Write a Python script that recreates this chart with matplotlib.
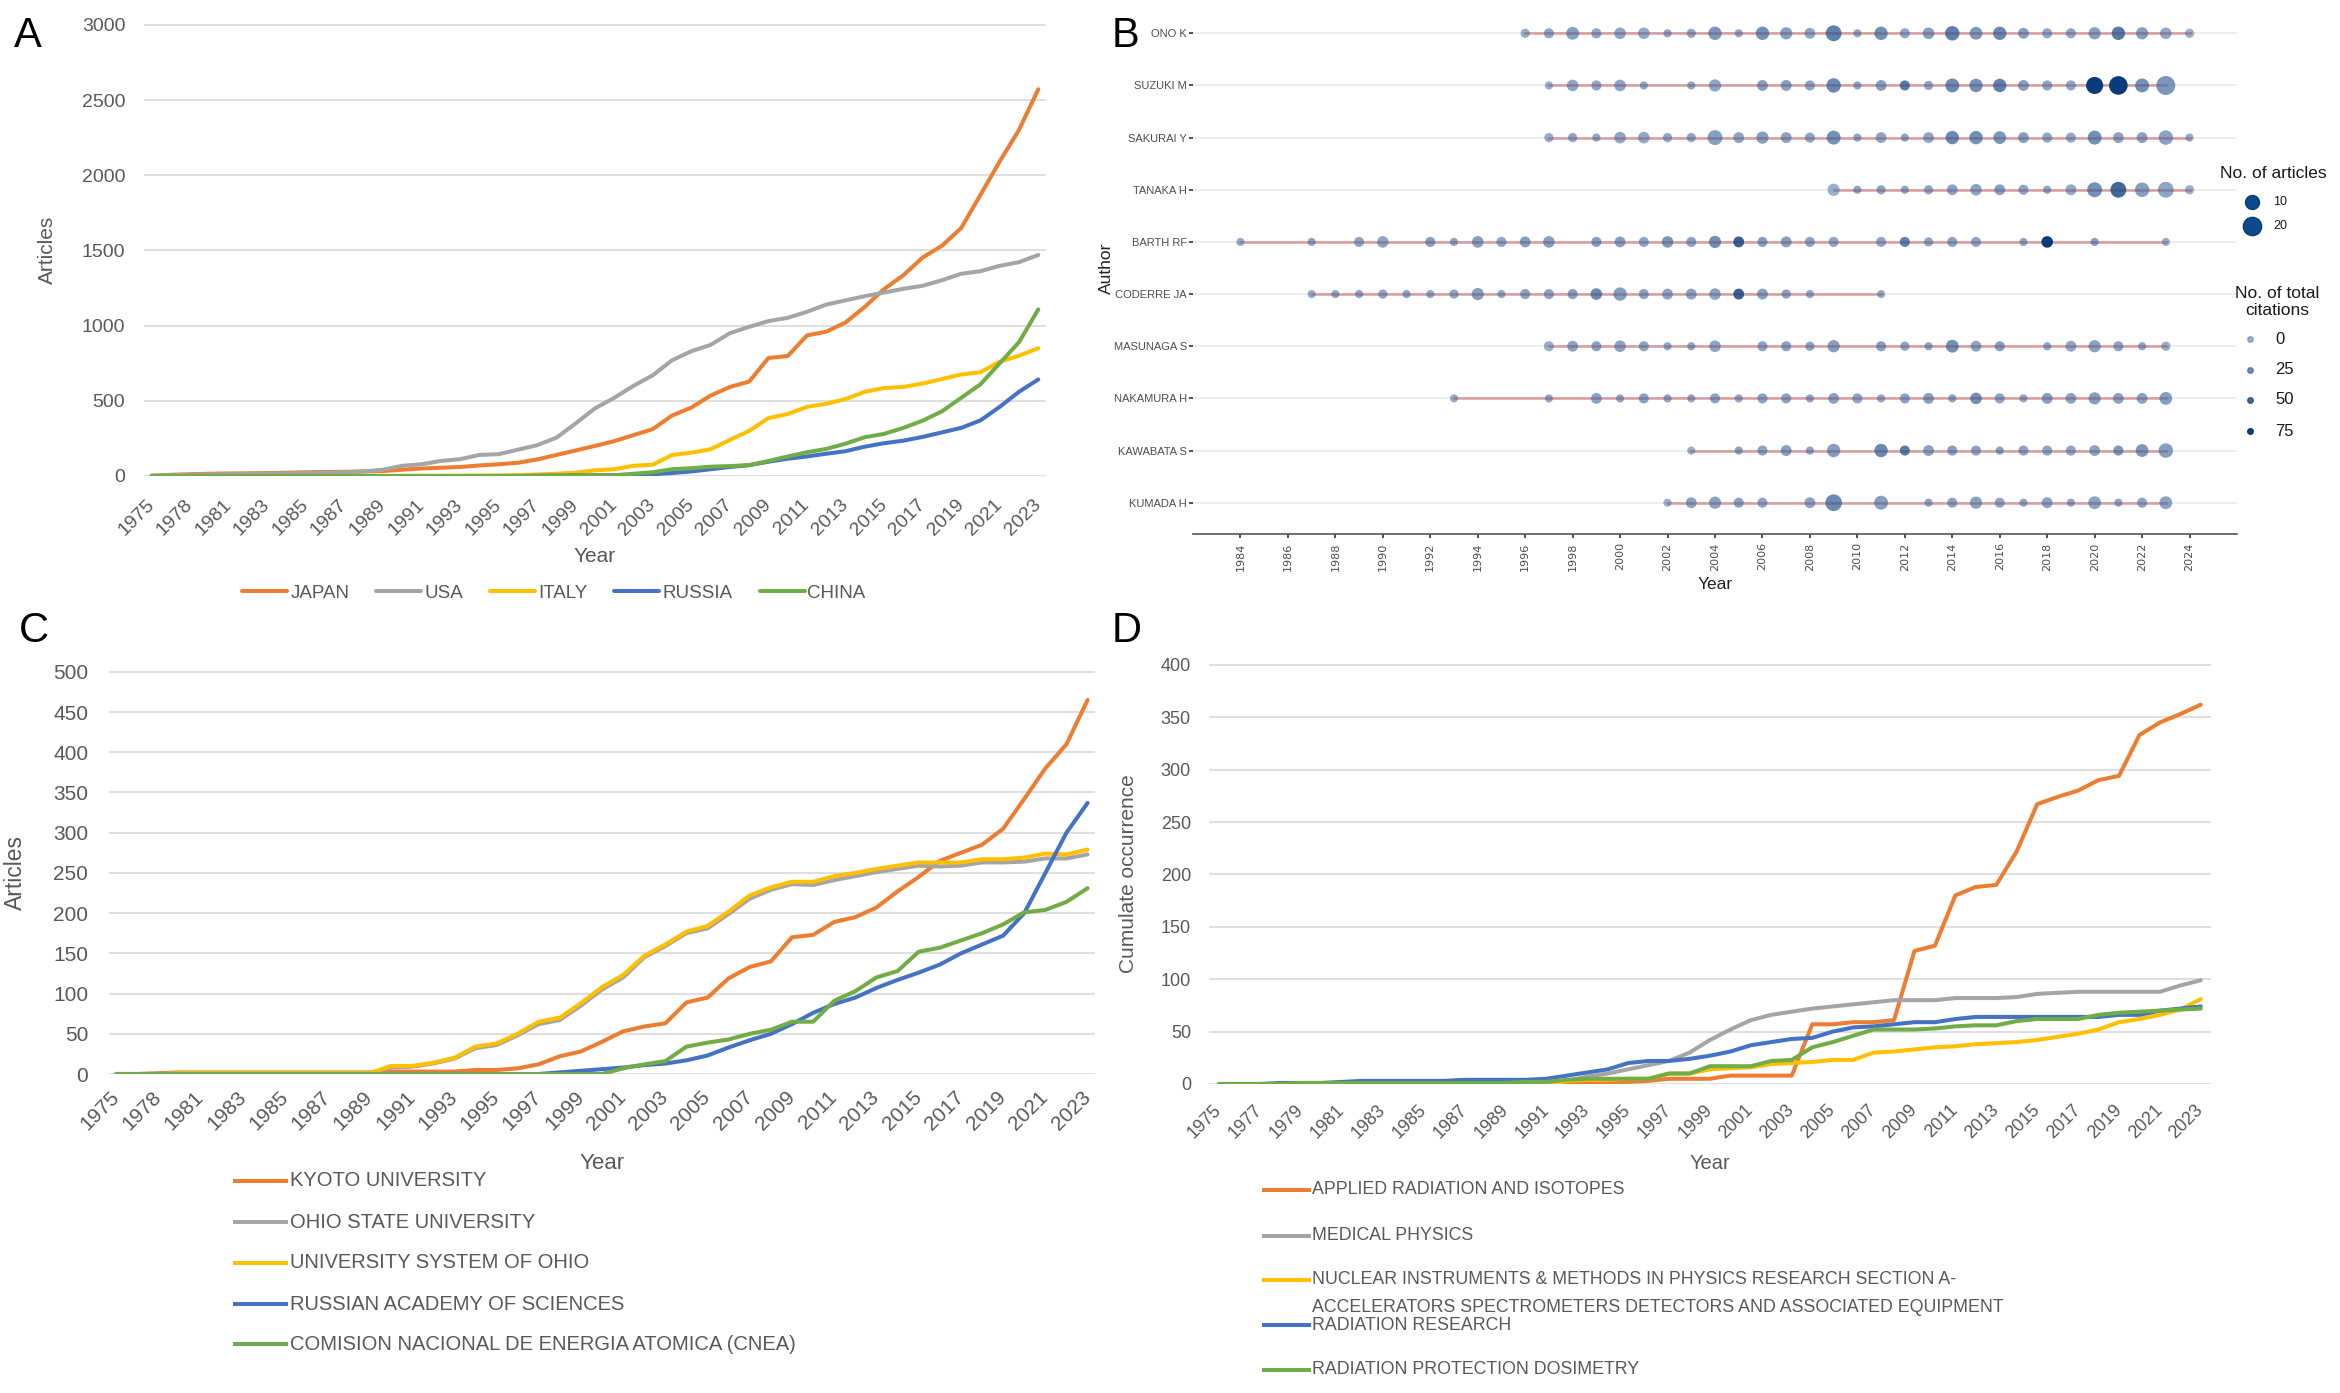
import numpy as np
import matplotlib
matplotlib.use('Agg')
import matplotlib.pyplot as plt
from matplotlib.lines import Line2D
from matplotlib.colors import LinearSegmentedColormap

plt.rcParams['font.family'] = ['Liberation Sans', 'DejaVu Sans']

W, H = 2340, 1393
ORANGE, GRAY, YELLOW, BLUE, GREEN = '#ED7D31', '#A5A5A5', '#FFC000', '#4472C4', '#70AD47'
TXT = '#595959'

# ---------------- panel A: countries (cumulative articles)
years_a = [1975, 1977, 1978, 1980] + list(range(1981, 2024))
japan = [2, 8, 12, 15, 17, 18, 20, 22, 25, 27, 28, 30, 33, 42, 50, 55, 60, 70, 78, 88,
         110, 140, 170, 200, 232, 272, 312, 402, 455, 535, 592, 628, 785, 798, 935, 960,
         1021, 1125, 1243, 1335, 1453, 1531, 1649, 1870, 2092, 2302, 2572]
usa = [1, 5, 8, 10, 12, 14, 16, 18, 20, 22, 25, 30, 42, 68, 78, 100, 112, 140, 145, 175,
       205, 255, 350, 450, 520, 600, 670, 770, 830, 872, 950, 992, 1030, 1052, 1092, 1140,
       1168, 1196, 1220, 1245, 1265, 1302, 1345, 1362, 1398, 1422, 1470]
italy = [0, 0, 0, 0, 0, 0, 0, 0, 0, 0, 0, 1, 1, 1, 1, 2, 2, 3, 4, 6,
         10, 15, 22, 38, 45, 68, 75, 140, 155, 178, 240, 300, 385, 412, 460, 480,
         512, 560, 585, 592, 615, 645, 675, 690, 760, 800, 850]
russia = [0, 0, 0, 0, 0, 0, 0, 0, 0, 0, 0, 0, 0, 0, 0, 0, 0, 0, 0, 0,
          2, 3, 4, 5, 6, 8, 12, 20, 30, 45, 60, 72, 95, 115, 130, 148,
          165, 195, 218, 235, 260, 290, 320, 370, 460, 560, 642]
china = [0, 0, 0, 0, 0, 0, 0, 0, 0, 0, 0, 0, 0, 0, 0, 0, 0, 0, 0, 0,
         1, 1, 2, 3, 5, 15, 25, 45, 52, 62, 66, 72, 100, 130, 158, 180,
         215, 258, 280, 320, 368, 430, 520, 610, 750, 890, 1108]

# ---------------- panel C: institutions
years_c = [1975, 1977, 1978, 1980] + list(range(1981, 2024))
kyoto = [0, 0, 1, 2, 2, 2, 2, 2, 2, 2, 2, 2, 2, 3, 3, 3, 3, 5, 5, 7,
         12, 22, 28, 40, 53, 59, 63, 89, 95, 119, 133, 140, 170, 173, 189, 195,
         207, 227, 245, 265, 275, 285, 305, 342, 380, 410, 465]
ohio_state = [0, 0, 0, 1, 1, 1, 1, 1, 1, 1, 1, 1, 1, 8, 9, 13, 19, 32, 36, 48,
              62, 67, 85, 105, 120, 145, 159, 175, 181, 199, 218, 229, 236, 235, 241, 246,
              251, 255, 259, 258, 259, 263, 263, 264, 268, 268, 273]
ohio_system = [0, 0, 0, 1, 1, 1, 1, 1, 1, 1, 1, 1, 1, 10, 10, 14, 20, 34, 38, 50,
               65, 70, 88, 108, 123, 147, 161, 177, 184, 202, 222, 232, 239, 239, 246, 250,
               255, 259, 263, 263, 263, 267, 267, 269, 274, 273, 279]
russian_acad = [0, 0, 0, 0, 0, 0, 0, 0, 0, 0, 0, 0, 0, 0, 0, 0, 0, 0, 0, 0,
                0, 2, 4, 6, 8, 11, 13, 17, 23, 33, 42, 50, 62, 76, 87, 95,
                107, 117, 126, 136, 150, 161, 172, 200, 250, 300, 337]
cnea = [0, 0, 0, 0, 0, 0, 0, 0, 0, 0, 0, 0, 0, 0, 0, 0, 0, 0, 0, 0,
        0, 0, 0, 0, 7, 12, 16, 34, 39, 43, 50, 55, 65, 65, 91, 103,
        120, 128, 152, 157, 166, 175, 186, 201, 204, 214, 231]

# ---------------- panel D: journals (cumulative occurrence)
years_d = list(range(1975, 2024))
applied_rad = [0] * 18 + [1, 1, 2, 3, 5, 5, 5, 8, 8, 8, 8, 57, 57, 59, 59, 61, 127, 132,
                          180, 188, 190, 222, 267, 274, 280, 290, 294, 333, 345, 353, 362]
medical_phys = [0] * 17 + [3, 7, 10, 14, 18, 22, 30, 42, 52, 61, 66, 69, 72, 74, 76, 78,
                           80, 80, 80, 82, 82, 82, 83, 86, 87, 88, 88, 88, 88, 88, 94, 99]
nuclear_instr = [0] * 17 + [3, 4, 4, 5, 5, 10, 10, 14, 15, 16, 19, 20, 21, 23, 23, 30,
                            31, 33, 35, 36, 38, 39, 40, 42, 45, 48, 52, 59, 62, 66, 71, 81]
radiation_res = [0, 0, 0, 1, 1, 1, 2, 3, 3, 3, 3, 3, 4, 4, 4, 4, 5, 8, 11, 14, 20, 22, 22,
                 24, 27, 31, 37, 40, 43, 44, 50, 54, 55, 57, 59, 59, 62, 64, 64, 64, 64,
                 64, 64, 64, 66, 66, 70, 72, 74]
rad_prot_dos = [0, 0, 0, 0, 1, 1, 1, 1, 1, 1, 1, 1, 1, 1, 1, 2, 2, 4, 5, 5, 5, 5, 10, 10,
                17, 17, 17, 22, 23, 35, 40, 46, 52, 52, 52, 53, 55, 56, 56, 60, 62, 62, 62,
                66, 68, 69, 70, 71, 72]

# ---------------- panel B: authors over time
b_authors = ['ONO K', 'SUZUKI M', 'SAKURAI Y', 'TANAKA H', 'BARTH RF',
             'CODERRE JA', 'MASUNAGA S', 'NAKAMURA H', 'KAWABATA S', 'KUMADA H']
ono_yr = list(range(1996, 2025))
ono_art = [3, 4, 8, 4, 6, 6, 2, 3, 9, 2, 9, 7, 5, 14, 2, 9, 4, 6, 11, 8, 9, 5, 4, 4, 7, 9, 7, 6, 3]
ono_cit = [5, 10, 15, 10, 10, 8, 10, 10, 20, 10, 25, 15, 10, 35, 10, 25, 10, 15, 35, 20, 30, 15, 10, 10, 15, 40, 15, 8, 2]
suzuki_yr = [1997, 1998, 1999, 2000, 2001, 2003, 2004, 2006, 2007, 2008, 2009, 2010, 2011,
             2012, 2013, 2014, 2015, 2016, 2017, 2018, 2019, 2020, 2021, 2022, 2023]
suzuki_art = [2, 6, 4, 6, 2, 2, 7, 5, 5, 4, 11, 2, 5, 4, 3, 10, 9, 9, 5, 4, 4, 17, 21, 10, 22]
suzuki_cit = [5, 10, 10, 10, 10, 10, 10, 15, 15, 12, 30, 10, 15, 40, 10, 30, 25, 35, 15, 10, 8, 75, 75, 25, 20]
sakurai_yr = list(range(1997, 2025))
sakurai_art = [3, 3, 2, 6, 6, 3, 3, 12, 5, 7, 5, 4, 10, 2, 5, 2, 5, 9, 9, 8, 5, 4, 4, 10, 5, 5, 11, 2]
sakurai_cit = [5, 10, 10, 10, 8, 10, 10, 15, 10, 15, 12, 10, 25, 10, 10, 10, 10, 30, 25, 20, 15, 10, 8, 25, 12, 12, 12, 5]
tanaka_yr = list(range(2009, 2025))
tanaka_art = [7, 2, 3, 2, 3, 5, 6, 5, 4, 2, 5, 12, 14, 11, 14, 3]
tanaka_cit = [3, 10, 10, 10, 10, 12, 12, 15, 10, 10, 8, 25, 50, 15, 10, 3]
barth_yr = [1984, 1987, 1989, 1990, 1992, 1993, 1994, 1995, 1996, 1997, 1999, 2000, 2001, 2002, 2003,
            2004, 2005, 2006, 2007, 2008, 2009, 2011, 2012, 2013, 2014, 2015, 2017, 2018, 2020, 2023]
barth_art = [2, 2, 4, 6, 4, 2, 6, 4, 5, 6, 4, 5, 4, 6, 4, 7, 5, 4, 5, 4, 4, 4, 4, 3, 4, 4, 2, 6, 2, 2]
barth_cit = [5, 10, 10, 10, 15, 10, 15, 10, 15, 15, 15, 15, 10, 20, 12, 25, 55, 15, 15, 12, 10, 10, 35, 10, 12, 10, 10, 75, 15, 5]
coderre_yr = list(range(1987, 2009)) + [2011]
coderre_art = [2, 2, 2, 3, 2, 2, 3, 7, 2, 4, 4, 4, 6, 9, 4, 5, 5, 6, 5, 5, 3, 2, 2]
coderre_cit = [5, 10, 10, 10, 10, 10, 10, 15, 10, 12, 12, 15, 30, 15, 12, 12, 12, 12, 55, 15, 12, 10, 5]
masunaga_yr = [1997, 1998, 1999, 2000, 2001, 2002, 2003, 2004, 2006, 2007, 2008, 2009,
               2011, 2012, 2013, 2014, 2015, 2016, 2018, 2019, 2020, 2021, 2022, 2023]
masunaga_art = [4, 5, 4, 6, 4, 2, 2, 6, 4, 4, 3, 7, 4, 3, 2, 8, 5, 4, 2, 5, 7, 4, 2, 3]
masunaga_cit = [3, 12, 12, 12, 12, 10, 10, 10, 12, 12, 12, 15, 15, 10, 10, 25, 12, 15, 10, 10, 12, 12, 10, 5]
nakamura_yr = [1993, 1997] + list(range(1999, 2024))
nakamura_art = [2, 2, 5, 2, 4, 2, 2, 4, 2, 4, 4, 2, 5, 4, 2, 4, 5, 2, 6, 4, 2, 5, 5, 7, 5, 5, 8]
nakamura_cit = [5, 10, 12, 10, 12, 10, 10, 12, 10, 12, 12, 10, 12, 10, 10, 12, 15, 12, 25, 12, 10, 15, 12, 15, 12, 12, 15]
kawabata_yr = [2003, 2005, 2006, 2007, 2008, 2009] + list(range(2011, 2024))
kawabata_art = [2, 2, 4, 5, 2, 9, 9, 4, 5, 4, 4, 2, 4, 4, 4, 5, 4, 8, 11]
kawabata_cit = [3, 12, 12, 15, 10, 15, 30, 40, 12, 15, 12, 12, 12, 10, 10, 12, 20, 20, 15]
kumada_yr = [2002, 2003, 2004, 2005, 2006, 2008, 2009, 2011] + list(range(2013, 2024))
kumada_art = [2, 5, 7, 4, 4, 5, 16, 10, 2, 4, 7, 4, 2, 5, 2, 8, 2, 4, 8]
kumada_cit = [3, 12, 12, 12, 10, 12, 30, 15, 10, 12, 12, 10, 10, 12, 10, 12, 10, 10, 12]

b_years = [ono_yr, suzuki_yr, sakurai_yr, tanaka_yr, barth_yr, coderre_yr,
           masunaga_yr, nakamura_yr, kawabata_yr, kumada_yr]
b_articles = [ono_art, suzuki_art, sakurai_art, tanaka_art, barth_art, coderre_art,
              masunaga_art, nakamura_art, kawabata_art, kumada_art]
b_citations = [ono_cit, suzuki_cit, sakurai_cit, tanaka_cit, barth_cit, coderre_cit,
               masunaga_cit, nakamura_cit, kawabata_cit, kumada_cit]


def fx(px):
    return px / W


def fy(py):
    return 1 - py / H


def excel_panel(ax, cats, series, ymax, ystep, xpad, step, fs, ypad, xtpad):
    x = np.arange(len(cats))
    for vals, col, name in series:
        ax.plot(x, vals, color=col, lw=2.9, label=name,
                solid_joinstyle='round', solid_capstyle='round')
    ax.set_xlim(-xpad, len(cats) - 1 + xpad)
    ax.set_ylim(0, ymax * 1.002)
    ax.set_yticks(np.arange(0, ymax + 1, ystep))
    ax.set_xticks(x[::step])
    ax.set_xticklabels([str(c) for c in cats[::step]], rotation=45, ha='right',
                       va='center', rotation_mode='anchor')
    ax.grid(axis='y', color='#D9D9D9', lw=1.2)
    ax.set_axisbelow(True)
    for s in ax.spines.values():
        s.set_visible(False)
    ax.tick_params(length=0, labelsize=fs, labelcolor=TXT)
    ax.tick_params(axis='y', pad=ypad)
    ax.tick_params(axis='x', pad=xtpad)


def legend_rows(entries, x0, x1, xt, ys, fs):
    for (vals, col, name), yy in zip(entries, ys):
        fig.add_artist(Line2D([fx(x0), fx(x1)], [fy(yy), fy(yy)], color=col, lw=2.9))
        for k, line in enumerate(name.split('\n')):
            fig.text(fx(xt), fy(yy + k * 27), line, fontsize=fs, color=TXT, va='center')


fig = plt.figure(figsize=(W / 100, H / 100), dpi=100)

# ---- A
ax_a = fig.add_axes([fx(144), fy(476), (1046 - 144) / W, (476 - 24) / H])
series_a = [(japan, ORANGE, 'JAPAN'), (usa, GRAY, 'USA'), (italy, YELLOW, 'ITALY'),
            (russia, BLUE, 'RUSSIA'), (china, GREEN, 'CHINA')]
excel_panel(ax_a, years_a, series_a, 3000, 500, 0.4, 2, 14, 13.5, 19)
ax_a.set_ylabel('Articles', fontsize=15, color=TXT)
ax_a.yaxis.set_label_coords(-0.0965, 0.5)
ax_a.set_xlabel('Year', fontsize=15, color=TXT)
ax_a.xaxis.set_label_coords(0.5, -0.179)
ax_a.xaxis.label.set_va('center')
ax_a.legend(loc='center', bbox_to_anchor=(fx(554), fy(593)), bbox_transform=fig.transFigure,
            ncol=5, frameon=False, fontsize=13.5, handlelength=2.4, handletextpad=0.15,
            columnspacing=1.45, labelcolor=TXT)

# ---- C
ax_c = fig.add_axes([fx(109), fy(1074), (1095 - 109) / W, (1074 - 671) / H])
series_c = [(kyoto, ORANGE, 'KYOTO UNIVERSITY'), (ohio_state, GRAY, 'OHIO STATE UNIVERSITY'),
            (ohio_system, YELLOW, 'UNIVERSITY SYSTEM OF OHIO'),
            (russian_acad, BLUE, 'RUSSIAN ACADEMY OF SCIENCES'),
            (cnea, GREEN, 'COMISION NACIONAL DE ENERGIA ATOMICA (CNEA)')]
excel_panel(ax_c, years_c, series_c, 500, 50, 0.35, 2, 15, 15, 14.5)
ax_c.set_ylabel('Articles', fontsize=16.5, color=TXT)
ax_c.yaxis.set_label_coords(-0.083, 0.5)
ax_c.set_xlabel('Year', fontsize=16, color=TXT)
ax_c.xaxis.set_label_coords(0.5, -0.223)
ax_c.xaxis.label.set_va('center')
legend_rows(series_c, 235, 286, 290, [1181, 1222, 1263, 1304, 1344], 14.5)

# ---- D
ax_d = fig.add_axes([fx(1209), fy(1084), (2211 - 1209) / W, (1084 - 664) / H])
series_d = [(applied_rad, ORANGE, 'APPLIED RADIATION AND ISOTOPES'),
            (medical_phys, GRAY, 'MEDICAL PHYSICS'),
            (nuclear_instr, YELLOW, 'NUCLEAR INSTRUMENTS & METHODS IN PHYSICS RESEARCH SECTION A-\n'
                                    'ACCELERATORS SPECTROMETERS DETECTORS AND ASSOCIATED EQUIPMENT'),
            (radiation_res, BLUE, 'RADIATION RESEARCH'),
            (rad_prot_dos, GREEN, 'RADIATION PROTECTION DOSIMETRY')]
excel_panel(ax_d, years_d, series_d, 400, 50, 0.5, 2, 13, 13, 17)
ax_d.set_ylabel('Cumulate occurrence', fontsize=15, color=TXT)
ax_d.yaxis.set_label_coords(-0.071, 0.5)
ax_d.set_xlabel('Year', fontsize=14.5, color=TXT)
ax_d.xaxis.set_label_coords(0.5, -0.19)
ax_d.xaxis.label.set_va('center')
legend_rows(series_d, 1264, 1309, 1312, [1190, 1236, 1280, 1325, 1370], 12.8)

# ---- B
ax_b = fig.add_axes([fx(1193), fy(534), (2237 - 1193) / W, (534 - 2) / H])
cmap = LinearSegmentedColormap.from_list('cit', ['#4f74a8', '#0b3b7a'])


def dot_rgba(cit):
    frac = np.clip(np.asarray(cit, dtype=float) / 75.0, 0, 1)
    rgba = cmap(frac)
    rgba[:, 3] = 0.55 + 0.45 * frac
    return rgba


def dot_size(n):
    d_px = 3.5 + 3.3 * np.sqrt(np.asarray(n, dtype=float))
    return (d_px * 0.72) ** 2


n_auth = len(b_authors)
for i, (name, yr, art, cit) in enumerate(zip(b_authors, b_years, b_articles, b_citations)):
    row = n_auth - i
    ax_b.plot([yr[0], yr[-1]], [row, row], color='#B22222', alpha=0.38, lw=2.0, zorder=2)
    ax_b.scatter(yr, [row] * len(yr), s=dot_size(art), c=dot_rgba(cit),
                 edgecolors='none', zorder=3)

ax_b.set_xlim(1982, 2026)
ax_b.set_ylim(0.4, n_auth + 0.6)
ax_b.set_yticks(range(n_auth, 0, -1))
ax_b.set_yticklabels(b_authors, fontsize=8, color='#4d4d4d')
ax_b.set_xticks(range(1984, 2025, 2))
ax_b.set_xticklabels([str(y) for y in range(1984, 2025, 2)], rotation=90,
                     fontsize=8, color='#4d4d4d', family='DejaVu Sans')
ax_b.grid(axis='y', color='#EBEBEB', lw=1.2)
ax_b.grid(axis='x', visible=False)
ax_b.set_axisbelow(True)
for s in ['top', 'right', 'left']:
    ax_b.spines[s].set_visible(False)
ax_b.spines['bottom'].set_color('#555555')
ax_b.spines['bottom'].set_linewidth(1.2)
ax_b.tick_params(axis='y', length=3, width=1.2, color='#333333', pad=1.5)
ax_b.tick_params(axis='x', length=3, width=1.2, color='#333333', pad=3)
ax_b.set_ylabel('Author', fontsize=12.5, color='#222222')
ax_b.yaxis.set_label_coords(-0.083, 0.5)
ax_b.yaxis.label.set_va('center')
ax_b.set_xlabel('Year', fontsize=12.5, color='#222222')
ax_b.xaxis.set_label_coords(0.5, -0.094)
ax_b.xaxis.label.set_va('center')

# B legends
fig.text(fx(2220), fy(174), 'No. of articles', fontsize=12.5, color='#1a1a1a', va='center')
for n, yy in zip([10, 20], [202, 226]):
    d_pt = 0.72 * (3.5 + 3.3 * np.sqrt(n))
    fig.add_artist(Line2D([fx(2252)], [fy(yy)], marker='o', markersize=d_pt, lw=0,
                          markerfacecolor='#0d4a8c', markeredgecolor='#0a3a70'))
    fig.text(fx(2273), fy(yy), str(n), fontsize=9, color='#1a1a1a', va='center')
fig.text(fx(2277), fy(302), 'No. of total\ncitations', fontsize=12.5, color='#1a1a1a',
         va='center', ha='center', multialignment='center')
for c, yy in zip([0, 25, 50, 75], [339, 370, 400, 431]):
    fig.add_artist(Line2D([fx(2250)], [fy(yy)], marker='o', markersize=4, lw=0,
                          color=dot_rgba([c])[0]))
    fig.text(fx(2275), fy(yy), str(c), fontsize=12, color='#1a1a1a', va='center')

# panel letters
for letter, x0, yb in [('A', 14, 47), ('B', 1112, 47), ('C', 19, 642), ('D', 1112, 642)]:
    fig.text(fx(x0), fy(yb), letter, fontsize=30, color='#000000', va='baseline',
             family=['Liberation Sans', 'DejaVu Sans'])

fig.savefig('out.png', dpi=100)
